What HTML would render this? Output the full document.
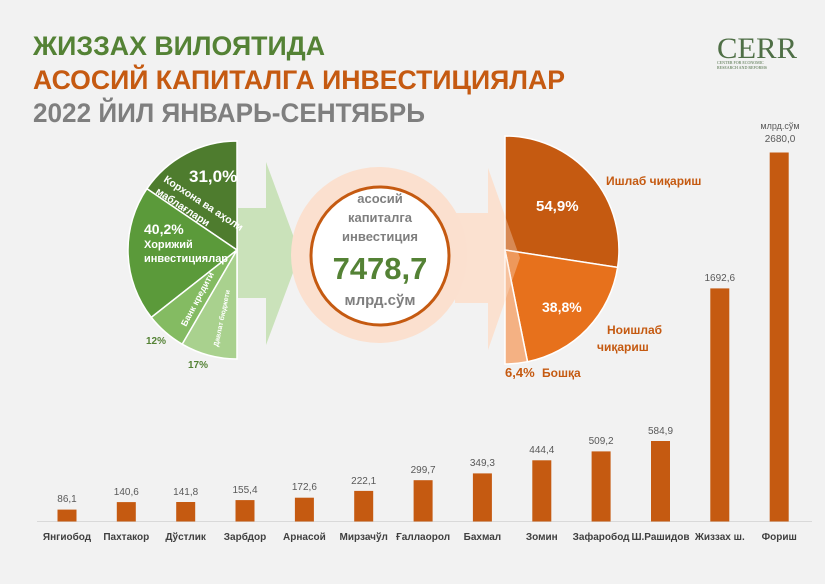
<!DOCTYPE html>
<html><head><meta charset="utf-8"><style>
html,body{margin:0;padding:0;background:#f2f2f2;}
svg{display:block;font-family:"Liberation Sans",sans-serif;}
</style></head><body>
<svg width="825" height="584" viewBox="0 0 825 584" xmlns="http://www.w3.org/2000/svg">
<rect width="825" height="584" fill="#f2f2f2"/>
<g font-weight="bold" font-size="27">
<text x="33" y="55" fill="#548235" textLength="292" lengthAdjust="spacingAndGlyphs">ЖИЗЗАХ ВИЛОЯТИДА</text>
<text x="33" y="89" fill="#c55a11" textLength="532" lengthAdjust="spacingAndGlyphs">АСОСИЙ КАПИТАЛГА ИНВЕСТИЦИЯЛАР</text>
<text x="33" y="122" fill="#7f7f7f" textLength="392" lengthAdjust="spacingAndGlyphs">2022 ЙИЛ ЯНВАРЬ-СЕНТЯБРЬ</text>
</g>
<!-- logo -->
<text x="717" y="58" font-family="Liberation Serif,serif" font-size="30" fill="#4f6f46" textLength="80" lengthAdjust="spacingAndGlyphs">CERR</text>
<text x="717" y="64" font-family="Liberation Serif,serif" font-size="4" fill="#4f6f46">CENTER FOR ECONOMIC</text>
<text x="717" y="69" font-family="Liberation Serif,serif" font-size="4" fill="#4f6f46">RESEARCH AND REFORMS</text>

<!-- green arrow -->
<path d="M238,208 H266 V162 L300,254 L266,345 V298 H238 Z" fill="#c5e0b4" opacity="0.9"/>
<!-- orange arrow -->
<path d="M455,213 H488 V168 L520,258 L488,350 V303 H455 Z" fill="#fbe1d0"/>
<!-- circle -->
<circle cx="379" cy="255" r="88" fill="#fbe0cf"/>
<circle cx="380" cy="256" r="69" fill="#fff" stroke="#c55a11" stroke-width="3"/>
<g text-anchor="middle" font-weight="bold" fill="#7f7f7f" font-size="13">
<text x="380" y="203">асосий</text>
<text x="380" y="222">капиталга</text>
<text x="380" y="241">инвестиция</text>
<text x="380" y="279" font-size="31" fill="#548235">7478,7</text>
<text x="380" y="305" font-size="15">млрд.сўм</text>
</g>

<!-- left pie -->
<g stroke="#fff" stroke-width="1.5">
<path d="M237,250 L237,141 A109,109 0 0 0 146.9,188.7 Z" fill="#4e7c2e"/>
<path d="M237,250 L146.9,188.7 A109,109 0 0 0 151.3,317.4 Z" fill="#5b9a3a"/>
<path d="M237,250 L151.3,317.4 A109,109 0 0 0 182.2,344.2 Z" fill="#84bb62"/>
<path d="M237,250 L182.2,344.2 A109,109 0 0 0 237,359 Z" fill="#a9d18e"/>
</g>
<g fill="#fff" font-weight="bold">
<text x="189" y="182" font-size="17">31,0%</text>
<text transform="translate(163,181) rotate(33)" font-size="10.5">Корхона ва аҳоли</text>
<text transform="translate(155,193) rotate(33)" font-size="10.5">маблағлари</text>
<text x="144" y="234" font-size="14">40,2%</text>
<text x="144" y="248" font-size="11">Хорижий</text>
<text x="144" y="262" font-size="11">инвестициялар</text>
<text transform="translate(186,327) rotate(-62)" font-size="9">Банк кредити</text>
<text transform="translate(218,347) rotate(-78)" font-size="7">Давлат бюджети</text>
</g>
<text x="146" y="344" font-size="10" font-weight="bold" fill="#548235">12%</text>
<text x="188" y="368" font-size="10" font-weight="bold" fill="#548235">17%</text>

<!-- right pie -->
<g stroke="#fff" stroke-width="1.5">
<path d="M505,250 L505,136 A114,114 0 0 1 617.6,267.4 Z" fill="#c55a11"/>
<path d="M505,250 L617.6,267.4 A114,114 0 0 1 527.5,361.7 Z" fill="#e7711c"/>
<path d="M505,250 L527.5,361.7 A114,114 0 0 1 505,364 Z" fill="#f4b183"/>
</g>
<path d="M488,168 L520,258 L488,350 Z" fill="#fbe1d0" opacity="0.35"/>
<g font-weight="bold">
<text x="536" y="211" font-size="15" fill="#fff">54,9%</text>
<text x="542" y="312" font-size="14" fill="#fff">38,8%</text>
<g fill="#c55a11" font-size="12">
<text x="606" y="185">Ишлаб чиқариш</text>
<text x="607" y="334">Ноишлаб</text>
<text x="597" y="351">чиқариш</text>
<text x="505" y="377" font-size="13">6,4%</text>
<text x="542" y="377">Бошқа</text>
</g>
</g>

<!-- bars -->
<line x1="37" y1="521.5" x2="812" y2="521.5" stroke="#d9d9d9" stroke-width="1"/>
<g fill="#c55a11">
<rect x="57.5" y="509.6" width="19" height="11.9"/>
<rect x="116.8" y="502.1" width="19" height="19.4"/>
<rect x="176.2" y="502.0" width="19" height="19.5"/>
<rect x="235.5" y="500.1" width="19" height="21.4"/>
<rect x="294.9" y="497.7" width="19" height="23.8"/>
<rect x="354.2" y="490.9" width="19" height="30.6"/>
<rect x="413.6" y="480.2" width="19" height="41.3"/>
<rect x="472.9" y="473.4" width="19" height="48.1"/>
<rect x="532.3" y="460.3" width="19" height="61.2"/>
<rect x="591.6" y="451.4" width="19" height="70.1"/>
<rect x="651" y="441.0" width="19" height="80.5"/>
<rect x="710.3" y="288.4" width="19" height="233.1"/>
<rect x="769.7" y="152.5" width="19" height="369"/>
</g>
<g font-size="10" fill="#595959" text-anchor="middle">
<text x="67" y="502">86,1</text>
<text x="126.3" y="495">140,6</text>
<text x="185.7" y="495">141,8</text>
<text x="245" y="493">155,4</text>
<text x="304.4" y="490">172,6</text>
<text x="363.7" y="484">222,1</text>
<text x="423.1" y="473">299,7</text>
<text x="482.4" y="466">349,3</text>
<text x="541.8" y="453">444,4</text>
<text x="601.1" y="444">509,2</text>
<text x="660.5" y="434">584,9</text>
<text x="719.8" y="281">1692,6</text>
<text x="780" y="129" font-size="9">млрд.сўм</text>
<text x="780" y="142">2680,0</text>
</g>
<g font-size="10" font-weight="bold" fill="#404040" text-anchor="middle">
<text x="67" y="540">Янгиобод</text>
<text x="126.3" y="540">Пахтакор</text>
<text x="185.7" y="540">Дўстлик</text>
<text x="245" y="540">Зарбдор</text>
<text x="304.4" y="540">Арнасой</text>
<text x="363.7" y="540">Мирзачўл</text>
<text x="423.1" y="540">Ғаллаорол</text>
<text x="482.4" y="540">Бахмал</text>
<text x="541.8" y="540">Зомин</text>
<text x="601.1" y="540">Зафаробод</text>
<text x="660.5" y="540">Ш.Рашидов</text>
<text x="719.8" y="540">Жиззах ш.</text>
<text x="779.2" y="540">Фориш</text>
</g>
</svg>
</body></html>
